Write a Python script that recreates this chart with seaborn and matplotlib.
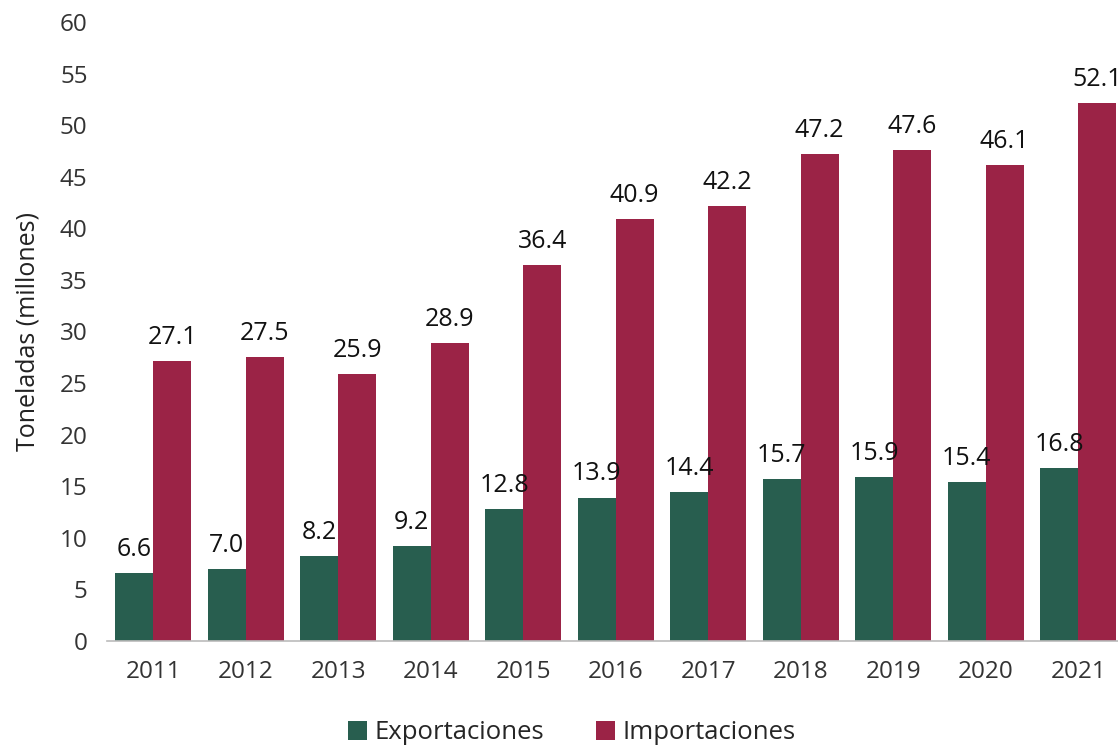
import matplotlib
matplotlib.use("Agg")
import matplotlib.pyplot as plt
import seaborn as sns
import pandas as pd

years = ["2011", "2012", "2013", "2014", "2015", "2016", "2017", "2018", "2019", "2020", "2021"]
exportaciones = [6.6, 7.0, 8.2, 9.2, 12.8, 13.9, 14.4, 15.7, 15.9, 15.4, 16.8]
importaciones = [27.1, 27.5, 25.9, 28.9, 36.4, 40.9, 42.2, 47.2, 47.6, 46.1, 52.1]
series_names = ["Exportaciones", "Importaciones"]
colors = ["#285e4f", "#9b2346"]

df = pd.DataFrame({
    "Año": years * 2,
    "Serie": [series_names[0]] * len(years) + [series_names[1]] * len(years),
    "Valor": exportaciones + importaciones,
})

sns.set_theme(style="white")
plt.rcParams["font.family"] = ["Open Sans", "DejaVu Sans"]

fig = plt.figure(figsize=(11.18, 7.45), dpi=100)
ax = fig.add_axes([0.0957, 0.1396, 0.9043, 0.8309])

sns.barplot(data=df, x="Año", y="Valor", hue="Serie", palette=colors,
            width=0.82, gap=0, saturation=1, linewidth=0, ax=ax, legend=True)

for container in ax.containers:
    ax.bar_label(container, fmt="%.1f", padding=8, fontsize=18, color="#111111")

ax.set_ylim(0, 60)
ax.set_yticks(range(0, 61, 5))
ax.set_xlim(-0.5, len(years) - 0.57)
ax.set_xlabel("")
ax.set_ylabel("Toneladas (millones)", fontsize=18, color="#222222", labelpad=14)
ax.tick_params(axis="both", length=0, labelsize=17.5, labelcolor="#333333")
ax.tick_params(axis="x", pad=14)
ax.tick_params(axis="y", pad=14)
for side in ["top", "right", "left"]:
    ax.spines[side].set_visible(False)
ax.spines["bottom"].set_color("#bbbbbb")
ax.spines["bottom"].set_linewidth(1.2)

handles, labels = ax.get_legend_handles_labels()
ax.legend(handles, labels, loc="center", bbox_to_anchor=(0.46, -0.148),
          ncol=2, frameon=False, fontsize=18.5, handlelength=0.75, handleheight=0.75,
          handletextpad=0.3, columnspacing=2.0, borderpad=0)

fig.savefig("out.png", dpi=100)
